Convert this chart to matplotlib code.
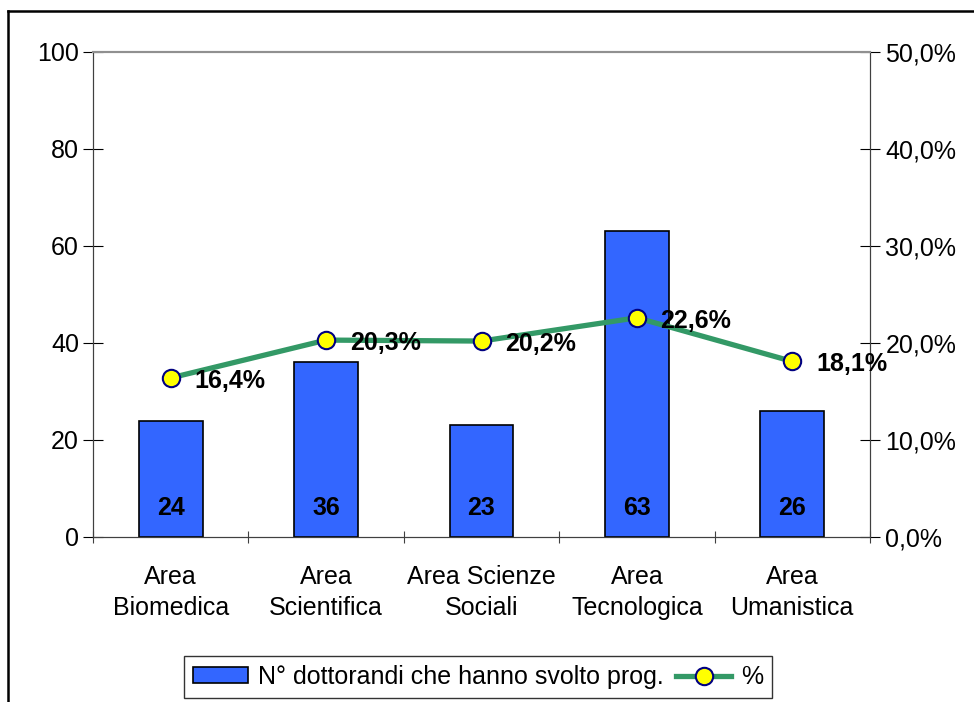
import matplotlib.pyplot as plt
from matplotlib.lines import Line2D
from matplotlib.patches import Patch

plt.rcParams['font.family'] = ['Liberation Sans', 'DejaVu Sans']

# Dati
categorie = ["Area\nBiomedica", "Area\nScientifica", "Area Scienze\nSociali",
             "Area\nTecnologica", "Area\nUmanistica"]
n_dottorandi = [24, 36, 23, 63, 26]
percentuali = [16.4, 20.3, 20.2, 22.6, 18.1]

W, H = 974, 702
fig = plt.figure(figsize=(W / 100, H / 100), dpi=100)
ax = fig.add_axes([93 / W, 1 - 537 / H, (870 - 93) / W, (537 - 52) / H])
ax2 = ax.twinx()

FS = 18

x = list(range(len(categorie)))
ax.bar(x, n_dottorandi, width=0.41, color="#3366FF", edgecolor="black", linewidth=1.2, zorder=2)
for xi, v in zip(x, n_dottorandi):
    ax.text(xi, 6, str(v), ha="center", va="center", fontsize=FS, fontweight="bold", zorder=3)

ax.set_xlim(-0.5, len(categorie) - 0.5)
ax.set_ylim(0, 100)
ax.set_yticks(range(0, 101, 20))
ax.set_xticks([i - 0.5 for i in range(len(categorie) + 1)])
ax.set_xticklabels([])
ax.set_xticks(x, minor=True)
ax.set_xticklabels(categorie, minor=True, fontsize=FS, linespacing=1.4)
ax.tick_params(axis="x", which="minor", length=0, pad=20)
ax.tick_params(axis="x", which="major", length=8, direction="inout", color="#404040")
ax.tick_params(axis="y", length=14, direction="inout", labelsize=FS, pad=3)

ax2.plot(x, percentuali, color="#339966", linewidth=3.8, marker="o", markersize=12.5,
         markerfacecolor="#FFFF00", markeredgecolor="#000080", markeredgewidth=1.5, zorder=4)
for xi, p in zip(x, percentuali):
    ax2.annotate(f"{p:.1f}%".replace(".", ","), (xi, p), xytext=(17, -2),
                 textcoords="offset points", ha="left", va="center",
                 fontsize=FS, fontweight="bold", zorder=5)
ax2.set_ylim(0, 50)
ax2.set_yticks(range(0, 51, 10))
ax2.set_yticklabels([f"{v:.1f}%".replace(".", ",") for v in range(0, 51, 10)])
ax2.tick_params(axis="y", length=14, direction="inout", labelsize=FS, pad=4)

for a in (ax, ax2):
    a.spines["top"].set_color("#909090")
    a.spines["top"].set_linewidth(1.5)
    a.spines["left"].set_color("#404040")
    a.spines["right"].set_color("#404040")
    a.spines["bottom"].set_color("#404040")
ax.set_zorder(ax2.get_zorder() - 1)
ax2.patch.set_visible(False)

# Legenda
handles = [Patch(facecolor="#3366FF", edgecolor="black", linewidth=1.2),
           Line2D([0], [0], color="#339966", linewidth=3.8, marker="o", markersize=12.5,
                  markerfacecolor="#FFFF00", markeredgecolor="#000080", markeredgewidth=1.5)]
labels = ["N° dottorandi che hanno svolto prog.", "%"]
leg = fig.legend(handles, labels, loc="center", bbox_to_anchor=(478 / W, 1 - 677 / H),
                 ncol=2, fontsize=FS, frameon=True, fancybox=False, edgecolor="black",
                 handlelength=2.2, handleheight=0.6, columnspacing=0.5, handletextpad=0.4,
                 borderpad=0.35)
leg.get_frame().set_linewidth(1.0)

# Cornice esterna
fig.add_artist(Line2D([8 / W, 1], [1 - 11 / H, 1 - 11 / H], color="black", linewidth=1.8,
                      transform=fig.transFigure))
fig.add_artist(Line2D([8 / W, 8 / W], [0, 1 - 11 / H], color="black", linewidth=1.8,
                      transform=fig.transFigure))

fig.savefig("out.png", dpi=100)
